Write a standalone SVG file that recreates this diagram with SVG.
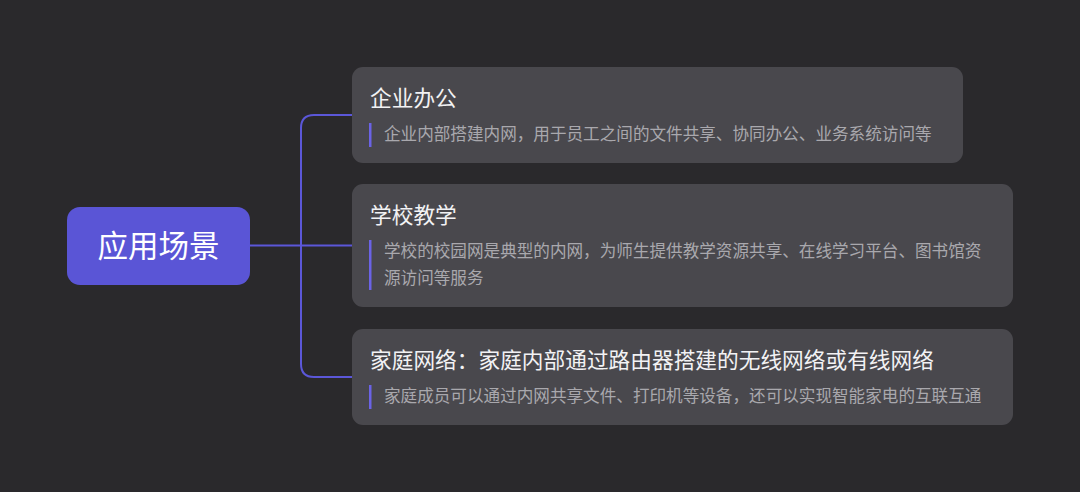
<svg xmlns="http://www.w3.org/2000/svg" width="1080" height="492" viewBox="0 0 1080 492">
<style>
.bg{fill:#2a292c}
.node{fill:#49484d}
.root{fill:#5a55d6}
.title{font-family:"Noto Sans CJK SC","Noto Sans",sans-serif;font-size:21.7px;fill:#f2f2f4}
.desc{font-family:"Noto Sans CJK SC","Noto Sans",sans-serif;font-size:16.6px;fill:#a9a8ad}
.rt{font-family:"Noto Sans CJK SC","Noto Sans",sans-serif;font-size:30.5px;fill:#ffffff}
.bar{fill:#6b63e6}
.conn{fill:none;stroke:#5b57d9;stroke-width:2}
</style>
<rect class="bg" x="0" y="0" width="1080" height="492"/>
<g id="connectors">
<path class="conn" d="M250 245.5 H352"/>
<path class="conn" d="M352 115 H314 Q301 115 301 128 V364 Q301 377 314 377 H352"/>
</g>
<g id="root">
<rect class="root" x="67" y="207" width="183" height="78" rx="13"/>
<text class="rt" x="158.5" y="257" text-anchor="middle">应用场景</text>
</g>
<g id="node1">
<rect class="node" x="352" y="67" width="611" height="96" rx="11"/>
<text class="title" x="370" y="106">企业办公</text>
<rect class="bar" x="369" y="123" width="2.5" height="24"/>
<text class="desc" x="384" y="140">企业内部搭建内网，用于员工之间的文件共享、协同办公、业务系统访问等</text>
</g>
<g id="node2">
<rect class="node" x="352" y="184" width="661" height="123" rx="11"/>
<text class="title" x="370" y="223">学校教学</text>
<rect class="bar" x="369" y="240" width="2.5" height="50"/>
<text class="desc" x="384" y="257">学校的校园网是典型的内网，为师生提供教学资源共享、在线学习平台、图书馆资</text>
<text class="desc" x="384" y="284">源访问等服务</text>
</g>
<g id="node3">
<rect class="node" x="352" y="329" width="661" height="96" rx="11"/>
<text class="title" x="370" y="368">家庭网络：家庭内部通过路由器搭建的无线网络或有线网络</text>
<rect class="bar" x="369" y="385" width="2.5" height="24"/>
<text class="desc" x="384" y="402">家庭成员可以通过内网共享文件、打印机等设备，还可以实现智能家电的互联互通</text>
</g>
</svg>
